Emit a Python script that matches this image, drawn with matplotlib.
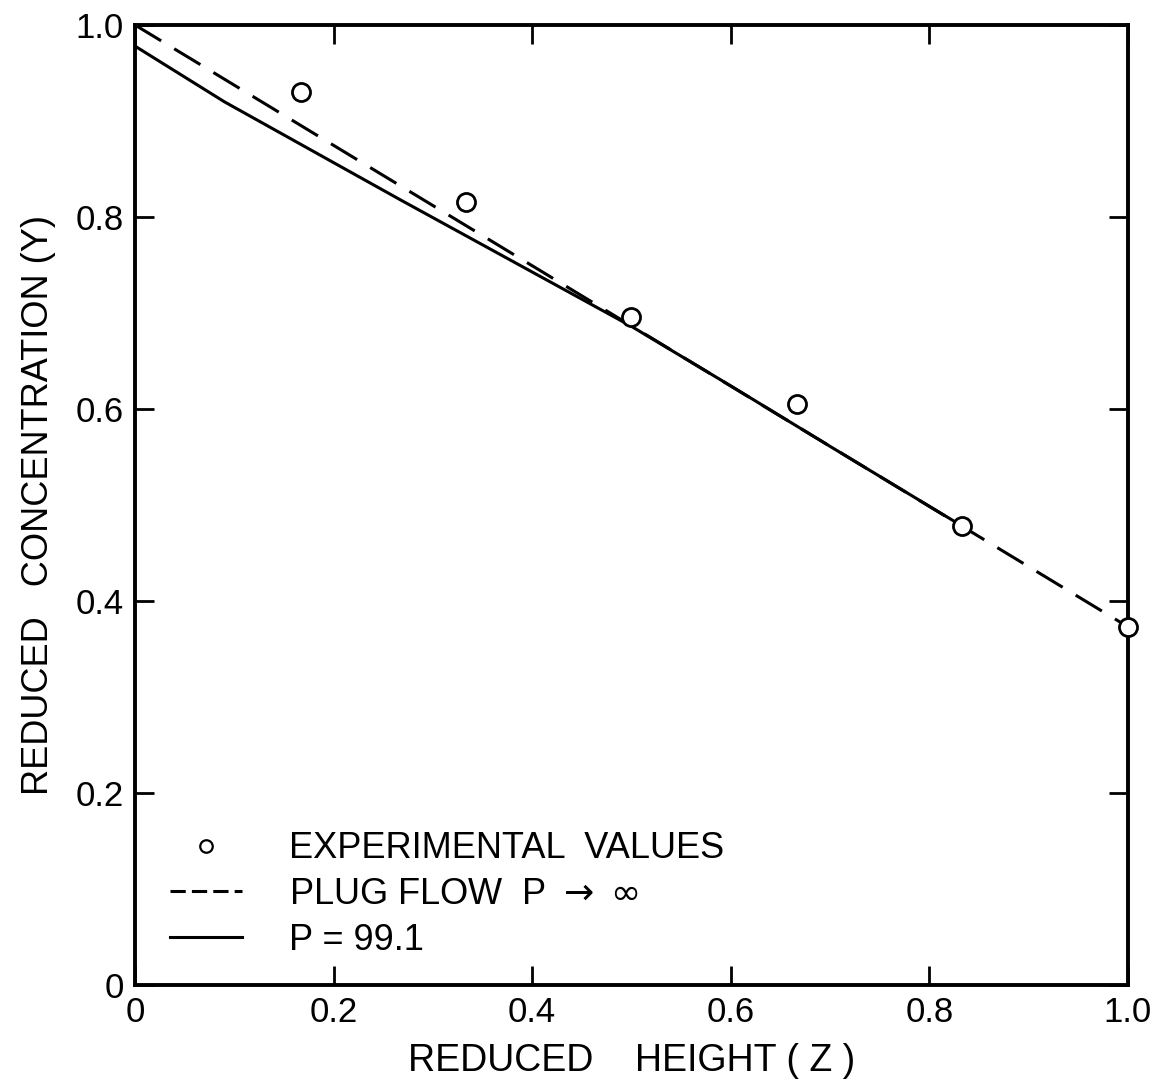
import matplotlib
matplotlib.use("Agg")
import matplotlib.pyplot as plt
from matplotlib.lines import Line2D

plt.rcParams['font.family'] = ['Liberation Sans Narrow', 'Liberation Sans', 'DejaVu Sans']

# Experimental reduced concentration along the reduced height
z_exp = [0.167, 0.333, 0.5, 0.667, 0.833, 1.0]
y_exp = [0.930, 0.816, 0.696, 0.605, 0.478, 0.373]

# Plug flow (P -> infinity)
z_plug = [0.0, 1.0]
y_plug = [1.0, 0.373]

# Dispersion model, P = 99.1
z_disp = [0.0, 0.09, 0.267, 0.5, 0.6, 0.7, 0.833]
y_disp = [0.978, 0.920, 0.818, 0.686, 0.624, 0.561, 0.478]

x_ticks = [0, 0.2, 0.4, 0.6, 0.8, 1.0]
x_ticklabels = ['0', '0.2', '0.4', '0.6', '0.8', '1.0']
y_ticks = [0, 0.2, 0.4, 0.6, 0.8, 1.0]
y_ticklabels = ['0', '0.2', '0.4', '0.6', '0.8', '1.0']

fig = plt.figure(figsize=(11.64, 10.87), dpi=100)
ax = fig.add_axes([0.116, 0.094, 0.853, 0.883])

ax.plot(z_plug, y_plug, color='black', lw=2.2, dashes=(10, 5))
ax.plot(z_disp, y_disp, color='black', lw=2.2)
ax.plot(z_exp, y_exp, ls='none', marker='o', ms=13, mfc='white',
        mec='black', mew=2.0, clip_on=False, zorder=5)

ax.set_xlim(0, 1.0)
ax.set_ylim(0, 1.0)
ax.set_xticks(x_ticks)
ax.set_xticklabels(x_ticklabels)
ax.set_yticks(y_ticks)
ax.set_yticklabels(y_ticklabels)
ax.tick_params(direction='in', length=14, width=2, top=True, right=True,
               labelsize=25, pad=8)

for s in ax.spines.values():
    s.set_linewidth(2.8)

ax.set_xlabel('REDUCED    HEIGHT ( Z )', fontsize=27, labelpad=10)
ax.set_ylabel('REDUCED   CONCENTRATION (Y)', fontsize=26, labelpad=14)

handles = [
    Line2D([], [], ls='none', marker='o', ms=9, mfc='white', mec='black', mew=1.6),
    Line2D([], [], color='black', lw=2.2, dashes=(5, 2)),
    Line2D([], [], color='black', lw=2.2),
]
labels = ['EXPERIMENTAL  VALUES', r'PLUG FLOW  P $\rightarrow$ $\infty$', 'P = 99.1']
ax.legend(handles, labels, loc='lower left', bbox_to_anchor=(0.035, 0.028),
          frameon=False, fontsize=26, handlelength=2.0, handletextpad=1.3,
          labelspacing=0.3, borderpad=0, borderaxespad=0)

fig.savefig('out.png', dpi=100, facecolor='white')
